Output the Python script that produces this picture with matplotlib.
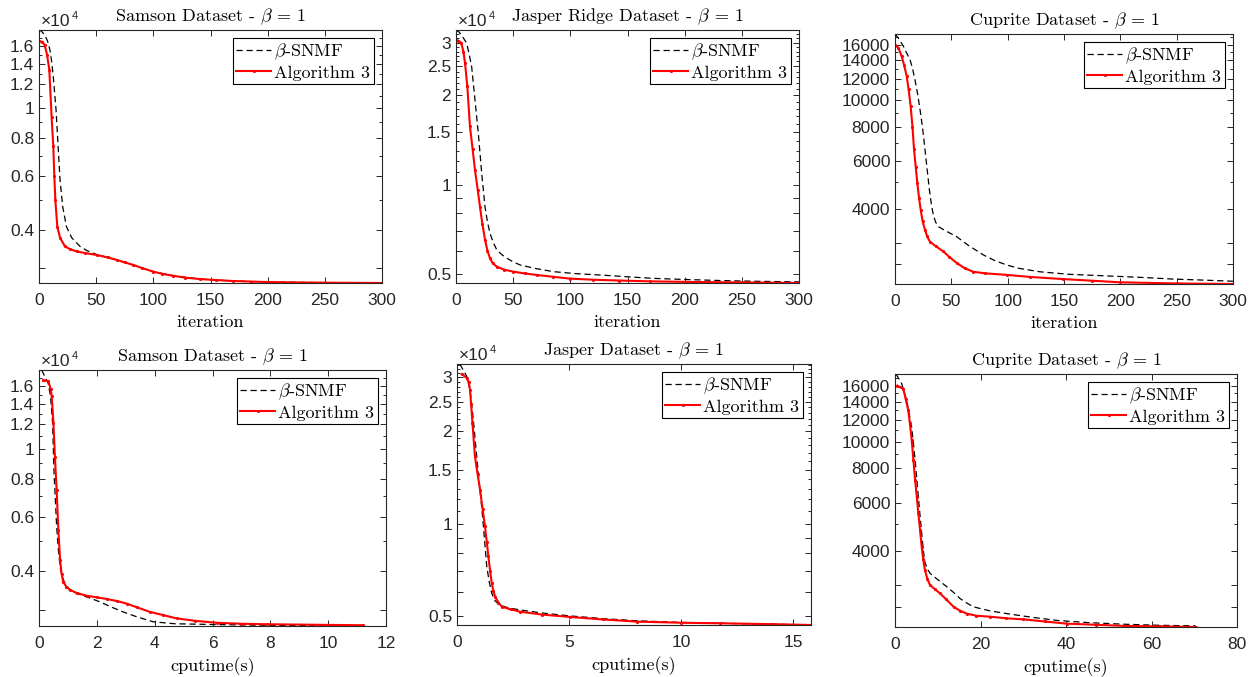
import numpy as np
import matplotlib
matplotlib.use("Agg")
import matplotlib.pyplot as plt
from matplotlib.ticker import FixedLocator, NullFormatter

plt.rcParams['mathtext.fontset'] = 'cm'
plt.rcParams['axes.unicode_minus'] = False

# ── Data ───────────────────────────────────────────────
# Samson, vs iteration
sam_it_red_x = [0, 3, 5, 7, 9, 11, 12.5, 13.4, 14.3, 16, 18.4, 22.7, 27, 33, 40, 50.5, 60, 68, 75,
                82.5, 90, 100, 108, 117.5, 128, 141, 155, 170, 185, 199, 230, 260, 300]
sam_it_red_y = [16600, 16500, 16100, 15000, 13400, 9400, 7500, 6000, 5000, 4100, 3770, 3530, 3460, 3400,
                3360, 3310, 3250, 3190, 3130, 3070, 3000, 2920, 2870, 2830, 2790, 2760, 2740, 2720, 2710,
                2700, 2690, 2685, 2680]
sam_it_blk_x = [0, 2, 5, 7.5, 9.6, 11, 12.5, 14.9, 16.9, 18.4, 20.7, 24, 28.6, 35.9, 42, 50.5, 60, 68,
                82.5, 100, 117.5, 141, 170, 199, 260, 300]
sam_it_blk_y = [18050, 17900, 17400, 16600, 15500, 14300, 12700, 9900, 7300, 5830, 4770, 4100, 3770, 3530,
                3420, 3320, 3250, 3190, 3070, 2920, 2830, 2760, 2720, 2700, 2685, 2680]

# Jasper Ridge, vs iteration
jas_it_red_x = [0, 2, 4.5, 6.5, 7.9, 9.9, 12.2, 14.5, 16.6, 19, 21, 23, 25.4, 27.5, 29.7, 32, 35.6, 42,
                50, 60, 70.6, 85, 99.7, 120, 143, 170, 202, 250, 300]
jas_it_red_y = [30600, 30500, 30000, 28000, 25600, 21400, 15700, 13200, 11200, 9600, 8400, 7400, 6520, 6000,
                5660, 5450, 5300, 5180, 5100, 5030, 4970, 4900, 4830, 4790, 4760, 4730, 4710, 4690, 4670]
jas_it_blk_x = [0, 3, 6, 9.3, 11.5, 13.7, 16.6, 19.5, 22.5, 25.4, 27.5, 29.7, 32.5, 35.6, 40, 44.3, 50,
                56, 70, 85, 105, 129, 150, 172.5, 200, 231, 265, 300]
jas_it_blk_y = [33100, 32500, 31300, 29900, 27500, 24900, 19300, 14900, 10900, 8400, 7500, 6870, 6400, 6040,
                5820, 5660, 5500, 5370, 5220, 5100, 5020, 4960, 4900, 4840, 4800, 4760, 4730, 4710]

# Cuprite, vs iteration
cup_it_red_x = [0, 3, 5.9, 8, 10.4, 12, 13.9, 15.5, 16.9, 18.4, 19.8, 21.3, 22.8, 24.5, 26.6, 28.5, 31,
                36, 42.9, 48, 54.8, 62, 69.6, 80, 99, 120, 149, 175, 200, 250, 300]
cup_it_red_y = [15900, 15600, 14500, 13500, 12250, 11000, 9500, 8000, 6600, 5700, 4970, 4400, 3970, 3600,
                3350, 3170, 3030, 2920, 2790, 2670, 2530, 2420, 2350, 2320, 2290, 2250, 2210, 2180, 2150,
                2130, 2120]
cup_it_blk_x = [0, 3, 7.4, 10, 13.3, 15.5, 17.7, 20, 22.2, 24.5, 26.6, 28.5, 30.5, 32.3, 34, 36, 38.5, 45,
                54.8, 65, 78.4, 88, 99, 110, 128.7, 155, 187.9, 220, 247, 275, 300]
cup_it_blk_y = [17500, 16900, 15800, 15000, 14100, 13100, 11900, 10600, 9250, 7900, 6600, 5600, 4700, 4150,
                3800, 3580, 3440, 3320, 3160, 2940, 2710, 2590, 2490, 2420, 2350, 2300, 2270, 2240, 2210,
                2190, 2170]

# Samson, vs cputime
sam_t_red_x = [0.15, 0.32, 0.4, 0.44, 0.5, 0.55, 0.61, 0.67, 0.73, 0.78, 0.84, 0.95, 1.07, 1.3, 1.65, 2.0,
               2.34, 2.7, 3.03, 3.4, 3.84, 4.3, 4.76, 5.4, 6.15, 7.0, 7.88, 9.5, 11.2]
sam_t_red_y = [16680, 16600, 15700, 14800, 12100, 9420, 7340, 5440, 4340, 3930, 3690, 3560, 3480, 3400, 3330,
               3290, 3250, 3200, 3140, 3050, 2950, 2880, 2810, 2760, 2720, 2700, 2690, 2680, 2670]
sam_t_blk_x = [0.09, 0.2, 0.32, 0.40, 0.47, 0.52, 0.57, 0.61, 0.67, 0.73, 0.8, 0.9, 1.05, 1.3, 1.7, 2.11,
               2.5, 2.91, 3.4, 3.95, 4.7, 5.57, 6.5, 7.88, 9.5, 11.0]
sam_t_blk_y = [18040, 17200, 16300, 14800, 12100, 8320, 6700, 5580, 4700, 4130, 3850, 3640, 3500, 3390, 3290,
               3180, 3060, 2950, 2840, 2740, 2700, 2690, 2680, 2670, 2660, 2655]

# Jasper, vs cputime
jas_t_red_x = [0.21, 0.43, 0.52, 0.58, 0.63, 0.69, 0.8, 0.92, 1.03, 1.14, 1.25, 1.33, 1.4, 1.48, 1.55, 1.62,
               1.7, 1.85, 2.0, 2.4, 2.82, 3.8, 5.05, 6.5, 8.03, 10, 11.75, 14, 15.85]
jas_t_red_y = [30800, 29900, 29000, 27400, 24500, 21300, 16600, 14500, 12900, 11200, 9800, 8700, 7820, 7000,
               6400, 6050, 5780, 5530, 5360, 5250, 5160, 5050, 4960, 4870, 4790, 4750, 4730, 4700, 4670]
jas_t_blk_x = [0.13, 0.3, 0.43, 0.58, 0.73, 0.85, 0.95, 1.07, 1.18, 1.26, 1.33, 1.44, 1.55, 1.7, 1.92, 2.3,
               2.82, 3.8, 5.05, 6.5, 8.03, 10, 11.75, 14, 15.85]
jas_t_blk_y = [33200, 31500, 30300, 27400, 21800, 17500, 14600, 12000, 9800, 8300, 7240, 6450, 5930, 5600,
               5420, 5310, 5230, 5110, 5000, 4900, 4820, 4760, 4730, 4700, 4670]

# Cuprite, vs cputime
cup_t_red_x = [0.55, 1.95, 2.5, 3.1, 3.5, 3.9, 4.3, 4.7, 5.1, 5.46, 5.85, 6.24, 6.6, 7.0, 7.6, 8.2, 9.3,
               10.5, 12, 13.7, 15.2, 16.8, 19, 22.3, 26, 30, 35, 40.2, 47, 53.5, 62, 70.3]
cup_t_red_y = [16000, 15550, 14300, 13000, 11600, 10140, 8600, 7250, 6300, 5480, 4780, 4140, 3720, 3400, 3150,
               3000, 2900, 2800, 2660, 2500, 2420, 2360, 2320, 2300, 2270, 2250, 2210, 2170, 2150, 2130,
               2120, 2110]
cup_t_blk_x = [0.23, 1.56, 2.7, 3.3, 3.9, 4.3, 4.7, 5.1, 5.46, 5.85, 6.25, 6.6, 7.0, 7.6, 8.2, 10, 12.1,
               13.7, 15.2, 16.8, 18.3, 22, 26.2, 32, 37.9, 45, 53.5, 62, 70.3]
cup_t_blk_y = [17650, 16300, 14200, 12700, 11300, 9900, 8580, 7300, 6300, 5400, 4630, 4050, 3630, 3430, 3310,
               3140, 2960, 2820, 2680, 2580, 2500, 2420, 2360, 2290, 2230, 2190, 2160, 2140, 2130]

titles = ["Samson Dataset - $\\beta$ = 1", "Jasper Ridge Dataset - $\\beta$ = 1", "Cuprite Dataset - $\\beta$ = 1",
          "Samson Dataset - $\\beta$ = 1", "Jasper Dataset - $\\beta$ = 1", "Cuprite Dataset - $\\beta$ = 1"]
xlabels = ["iteration"] * 3 + ["cputime(s)"] * 3
xlims = [300, 300, 300, 12, 15.8, 80]
xticks = [[0, 50, 100, 150, 200, 250, 300]] * 3 + [[0, 2, 4, 6, 8, 10, 12], [0, 5, 10, 15],
                                                   [0, 20, 40, 60, 80]]

sam_yticks = [3000, 4000, 6000, 8000, 10000, 12000, 14000, 16000]
sam_ylabels = ["", "0.4", "0.6", "0.8", "1", "1.2", "1.4", "1.6"]
jas_yticks = [5000, 6000, 7000, 8000, 9000, 10000, 15000, 20000, 25000, 30000]
jas_ylabels = ["0.5", "", "", "", "", "1", "1.5", "2", "2.5", "3"]
cup_yticks = [2500, 3000, 4000, 6000, 8000, 10000, 12000, 14000, 16000]
cup_ylabels = ["", "", "4000", "6000", "8000", "10000", "12000", "14000", "16000"]

# ── Layout (pixel boxes: left, top, right, bottom) ─────
W, H = 1253, 677
PX = 72 / 100   # points per pixel at dpi 100
boxes = [(39, 30, 382, 283), (456, 30, 799, 283), (895, 34, 1233, 284),
         (39, 370, 386, 626), (457, 364, 811, 625), (895, 374, 1237, 627)]

series = [
    (sam_it_blk_x, sam_it_blk_y, sam_it_red_x, sam_it_red_y, sam_yticks, sam_ylabels, True),
    (jas_it_blk_x, jas_it_blk_y, jas_it_red_x, jas_it_red_y, jas_yticks, jas_ylabels, True),
    (cup_it_blk_x, cup_it_blk_y, cup_it_red_x, cup_it_red_y, cup_yticks, cup_ylabels, False),
    (sam_t_blk_x, sam_t_blk_y, sam_t_red_x, sam_t_red_y, sam_yticks, sam_ylabels, True),
    (jas_t_blk_x, jas_t_blk_y, jas_t_red_x, jas_t_red_y, jas_yticks, jas_ylabels, True),
    (cup_t_blk_x, cup_t_blk_y, cup_t_red_x, cup_t_red_y, cup_yticks, cup_ylabels, False),
]

AX_COL = (0.15, 0.15, 0.15)
SERIF = 'cmr10'
SANS = 'Liberation Sans'

fig = plt.figure(figsize=(W / 100, H / 100), dpi=100)

for i, (bx, by, rx, ry, yt, yl, sci) in enumerate(series):
    l, t, r, b = boxes[i]
    ax = fig.add_axes([l / W, 1 - b / H, (r - l) / W, (b - t) / H])
    ax.set_yscale('log')
    ax.plot(bx, by, color='black', lw=0.9, ls=(0, (5, 3)), label=r'$\beta$-SNMF')
    ax.plot(rx, ry, color='red', lw=1.5, marker='.', ms=2.5, label='Algorithm 3')

    ymin = min(min(by), min(ry))
    ymax = max(max(by), max(ry))
    ax.set_ylim(ymin, ymax)
    ax.set_xlim(0, xlims[i])

    ax.yaxis.set_major_locator(FixedLocator(yt))
    ax.set_yticklabels(yl)
    minors = [v for v in range(2000, 34000, 1000) if v not in yt]
    ax.yaxis.set_minor_locator(FixedLocator(minors))
    ax.yaxis.set_minor_formatter(NullFormatter())
    ax.set_xticks(xticks[i])
    ax.set_xticklabels([str(v) for v in xticks[i]])

    ax.tick_params(which='both', direction='in', top=True, right=True, colors=AX_COL,
                   labelsize=12.5, width=0.7)
    ax.tick_params(which='major', length=4)
    ax.tick_params(which='minor', length=2)
    ax.tick_params(axis='x', pad=7.5)
    for lab in ax.get_xticklabels() + ax.get_yticklabels():
        lab.set_fontfamily(SANS)
    for s in ax.spines.values():
        s.set_color(AX_COL)
        s.set_linewidth(0.8)

    ax.set_title(titles[i], fontsize=13, fontfamily=SERIF, pad=6)
    ax.set_xlabel(xlabels[i], fontsize=13, fontfamily=SERIF, labelpad=4.5)

    if sci:
        ax.annotate("×10", xy=(0, 1), xycoords='axes fraction', xytext=(2 * PX, 4 * PX),
                    textcoords='offset points', fontsize=12.5, fontfamily=SANS, color=AX_COL,
                    ha='left', va='baseline')
        ax.annotate("4", xy=(0, 1), xycoords='axes fraction', xytext=(33 * PX, 11 * PX),
                    textcoords='offset points', fontsize=8, fontfamily=SANS, color=AX_COL,
                    ha='left', va='baseline')

    leg = ax.legend(loc='upper right', prop={'family': SERIF, 'size': 13}, fancybox=False,
                    edgecolor='black', framealpha=1, handlelength=1.9, handletextpad=0.2,
                    borderpad=0.2, labelspacing=0.15, borderaxespad=0.45)
    leg.get_frame().set_linewidth(0.8)

fig.savefig("out.png", dpi=100)
